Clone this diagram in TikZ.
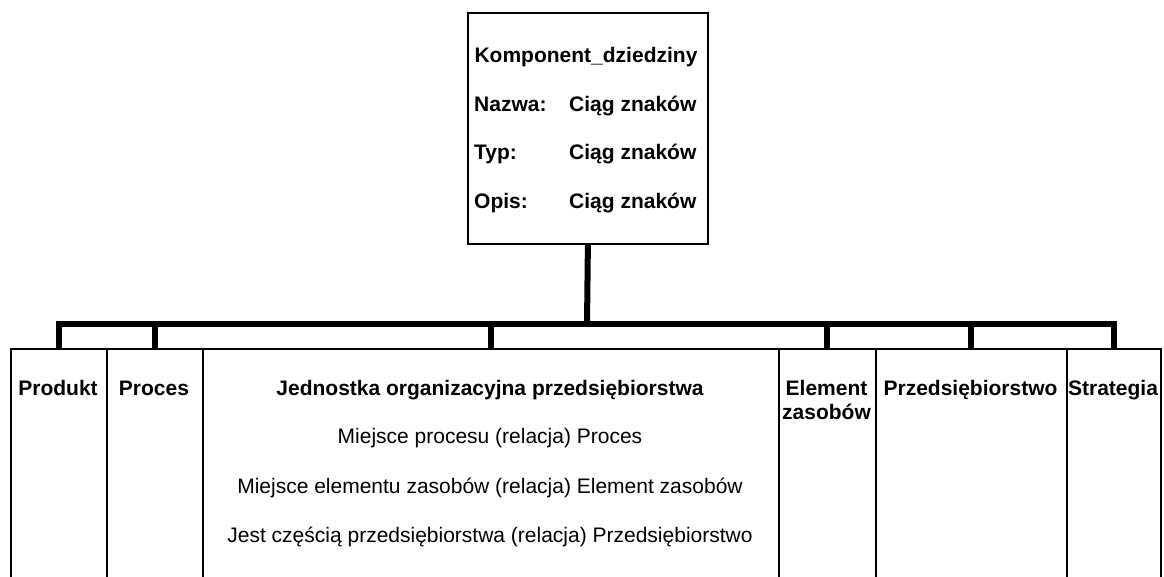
\documentclass[tikz,border=0pt]{standalone}
\usepackage{fontspec}
\setmainfont{Liberation Sans}
\begin{document}
\begin{tikzpicture}[x=1pt,y=-1pt,
  box/.style={draw=black,line width=1.8pt,inner sep=0pt,anchor=north west},
  conn/.style={draw=black,line width=6pt},
  bt/.style={font=\fontsize{21}{24}\selectfont\bfseries,anchor=base,inner sep=0pt},
  nt/.style={font=\fontsize{21}{24}\selectfont,anchor=base,inner sep=0pt},
  btl/.style={bt,anchor=base west}]
\useasboundingbox (0,0) rectangle (1164,576);
\clip (0,0) rectangle (1164,576);
% top box
\node[box,minimum width=240pt,minimum height=231pt] (top) at (467,12) {};
\node[bt] (t0) at (586,62) {Komponent\_dziedziny};
\node[btl] (l1) at (474,111) {Nazwa:};
\node[btl] (v1) at (569,111) {Ciąg znaków};
\node[btl] (l2) at (474,159) {Typ:};
\node[btl] (v2) at (569,159) {Ciąg znaków};
\node[btl] (l3) at (474,208) {Opis:};
\node[btl] (v3) at (569,208) {Ciąg znaków};
% bottom boxes
\node[box,minimum width=96pt,minimum height=260pt] (produkt) at (10,348) {};
\node[box,minimum width=96pt,minimum height=260pt] (proces) at (106,348) {};
\node[box,minimum width=576pt,minimum height=260pt] (jedn) at (202,348) {};
\node[box,minimum width=97pt,minimum height=260pt] (elem) at (778,348) {};
\node[box,minimum width=191pt,minimum height=260pt] (przed) at (875,348) {};
\node[box,minimum width=94pt,minimum height=260pt] (strat) at (1066,348) {};
% labels
\node[bt] (lp) at (58,395) {Produkt};
\node[bt] (lpr) at (154,395) {Proces};
\node[bt] (lj) at (490,395) {Jednostka organizacyjna przedsiębiorstwa};
\node[nt] (lj1) at (490,443) {Miejsce procesu (relacja) Proces};
\node[nt] (lj2) at (490,493) {Miejsce elementu zasobów (relacja) Element zasobów};
\node[nt] (lj3) at (490,542) {Jest częścią przedsiębiorstwa (relacja) Przedsiębiorstwo};
\node[bt] (le1) at (826.5,395) {Element};
\node[bt] (le2) at (826.5,419) {zasobów};
\node[bt] (lprz) at (970.5,395) {Przedsiębiorstwo};
\node[bt] (ls) at (1113,395) {Strategia};
% connectors
\coordinate (bus) at (587,324);
\draw[conn] (top.south) -- (bus);
\draw[conn] (bus) -| (produkt.north);
\draw[conn] (bus) -| (proces.north);
\draw[conn] (bus) -| (jedn.north);
\draw[conn] (bus) -| (elem.north);
\draw[conn] (bus) -| (przed.north);
\draw[conn] (bus) -| (strat.north);
\end{tikzpicture}
\end{document}
